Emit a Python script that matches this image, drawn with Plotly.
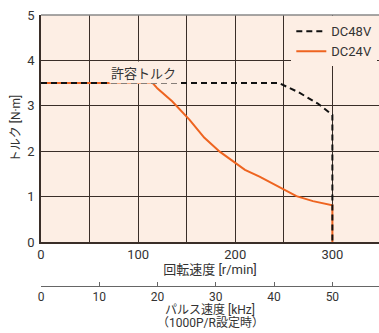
import plotly.graph_objects as go

# Data
dc48_x = [0, 245, 265, 285, 300, 300]
dc48_y = [3.5, 3.5, 3.3, 3.05, 2.8, 0]
dc24_x = [0, 115, 120, 135, 153, 168, 184, 210, 225, 251, 263, 280, 300, 300]
dc24_y = [3.5, 3.5, 3.38, 3.1, 2.69, 2.3, 1.99, 1.59, 1.44, 1.15, 1.01, 0.9, 0.81, 0]
x_ticks = [0, 50, 100, 150, 200, 250, 300]
x_ticklabels = ["0", "", "100", "", "200", "", "300"]
y_ticks = [0, 1, 2, 3, 4, 5]
khz_ticks = [0, 10, 20, 30, 40, 50]
khz_range = [0, 58]

BG = "#FDEEE4"
ORANGE = "#EE6420"
GRID = "#3a2e28"
TXT = "#333333"
FONT = "Roboto, Noto Sans CJK JP"

W, H = 379, 333

fig = go.Figure()
fig.add_trace(go.Scatter(x=dc24_x, y=dc24_y, mode="lines", name="DC24V",
                         line=dict(color=ORANGE, width=2)))
fig.add_trace(go.Scatter(x=dc48_x, y=dc48_y, mode="lines", name="DC48V",
                         line=dict(color="#111111", width=2, dash="6px,4px")))
fig.add_trace(go.Scatter(x=khz_range, y=[0, 0], xaxis="x2", yaxis="y",
                         mode="markers", marker=dict(opacity=0),
                         showlegend=False, hoverinfo="skip"))

ydom0 = (286 - 242) / (286 - 15)

fig.update_layout(
    width=W, height=H,
    margin=dict(l=41, r=0, t=15, b=333 - 286),
    paper_bgcolor="white", plot_bgcolor=BG,
    font=dict(family=FONT, size=13, color=TXT),
    showlegend=True,
    legend=dict(x=0.995, y=0.995, xanchor="right", yanchor="top",
                bgcolor=BG, traceorder="reversed",
                font=dict(size=13, color=TXT),
                itemwidth=30, tracegroupgap=0),
    xaxis=dict(range=[0, 348], tickvals=x_ticks, ticktext=x_ticklabels,
               showgrid=True, gridcolor=GRID, gridwidth=1, automargin=False,
               showline=True, linecolor=GRID, linewidth=1.5,
               zeroline=False, ticks="", anchor="y",
               title=dict(text="回転速度 [r/min]", standoff=4,
                          font=dict(size=13, color=TXT))),
    yaxis=dict(range=[0, 5], tickvals=y_ticks, domain=[ydom0, 1],
               showgrid=True, gridcolor=GRID, gridwidth=1, automargin=False,
               showline=True, linecolor=GRID, linewidth=1.5,
               zeroline=False, ticks="", ticklabelstandoff=2,
               title=dict(text="トルク [N·m]", standoff=4,
                          font=dict(size=12, color=TXT))),
    xaxis2=dict(range=khz_range, tickvals=khz_ticks, overlaying="x",
                anchor="free", position=0, side="bottom", automargin=False,
                showgrid=False, zeroline=False,
                showline=True, linecolor="#666666", linewidth=1,
                ticks="inside", ticklen=4, tickcolor="#666666",
                tickfont=dict(size=12, color=TXT)),
)

# top border of the plot area
fig.add_shape(type="line", xref="paper", yref="paper", x0=0, x1=1, y0=1, y1=1,
              line=dict(color="#888888", width=1.5))

fig.add_annotation(x=106, y=3.74, xref="x", yref="y", text="許容トルク",
                   showarrow=False, bgcolor=BG,
                   font=dict(size=13, color=TXT, family="Noto Sans CJK JP"))

# pulse-axis title (two lines)
for txt, shift in [("パルス速度 [kHz]", -24), ("（1000P/R設定時）", -37)]:
    fig.add_annotation(x=0.5, y=0, xref="paper", yref="paper", text=txt,
                       showarrow=False, yanchor="middle", yshift=shift,
                       borderpad=0, font=dict(size=12, color=TXT))

fig.write_html("out.html", config={"displayModeBar": False},
               post_script="document.body.style.margin='0';")
